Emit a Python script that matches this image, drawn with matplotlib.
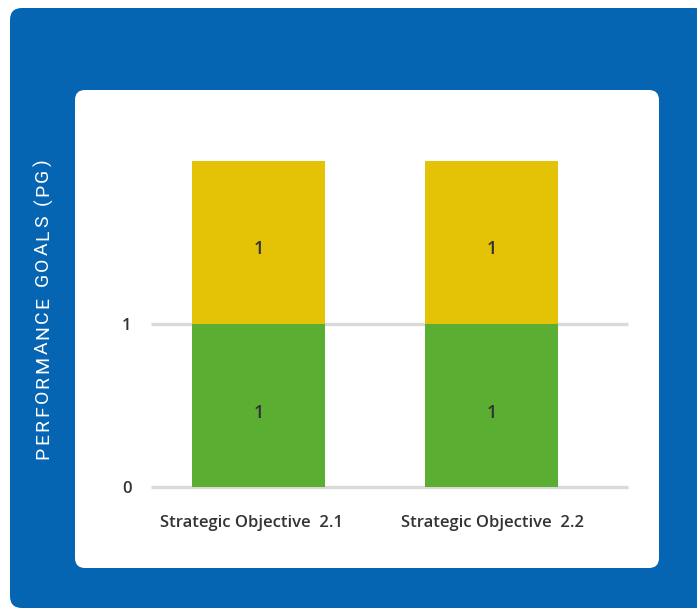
import matplotlib.pyplot as plt
from matplotlib.patches import FancyBboxPatch
from matplotlib.transforms import ScaledTranslation, blended_transform_factory

# Chart data
categories = ["Strategic Objective  2.1", "Strategic Objective  2.2"]
achieved = [1, 1]      # green segment
in_progress = [1, 1]   # yellow segment
y_ticks = [0, 1]
y_title = "PERFORMANCE GOALS (PG)"

BLUE = "#0565b2"
GREEN = "#5aae32"
YELLOW = "#e4c206"
GRID = "#d9d9d9"
TEXT = "#333333"

fig = plt.figure(figsize=(6.97, 6.09), dpi=100)
fig.patch.set_facecolor("white")

# blue panel and white card, drawn in inches so corners stay round
outer = FancyBboxPatch((0.10, 0.01), 7.2, 6.0, boxstyle="round,pad=0,rounding_size=0.12",
                       transform=fig.dpi_scale_trans, facecolor=BLUE, edgecolor="none", zorder=0)
inner = FancyBboxPatch((0.75, 0.41), 5.84, 4.78, boxstyle="round,pad=0,rounding_size=0.10",
                       transform=fig.dpi_scale_trans, facecolor="white", edgecolor="none", zorder=1)
fig.patches.extend([outer, inner])

ax = fig.add_axes([151 / 697, 122 / 609, 477 / 697, 326 / 609])
ax.set_facecolor("none")
ax.set_zorder(2)

x = list(range(len(categories)))
width = 0.571
ax.bar(x, achieved, width, color=GREEN, zorder=3)
ax.bar(x, in_progress, width, bottom=achieved, color=YELLOW, zorder=3)

down = ScaledTranslation(0, -5 / 100, fig.dpi_scale_trans)
for xi, a, p in zip(x, achieved, in_progress):
    for yv, v in ((a / 2, a), (a + p / 2, p)):
        ax.text(xi, yv, str(v), ha="center", va="center_baseline", fontsize=13, color=TEXT,
                family="Open Sans", weight="semibold", zorder=4,
                transform=ax.transData + down)

ax.set_xlim(-0.461, 1.586)
ax.set_ylim(0, 2)
ax.set_yticks(y_ticks)
ax.set_yticklabels([str(t) for t in y_ticks], family="Open Sans", weight="semibold",
                   fontsize=12, color=TEXT)
ax.set_xticks([])
# category labels are not quite centred under their bars in the original
nudge_px = [-7, 1]
base_tr = blended_transform_factory(ax.transData, ax.transAxes)
for xi, name, dx in zip(x, categories, nudge_px):
    tr = base_tr + ScaledTranslation(dx / 100, -20 / 72, fig.dpi_scale_trans)
    ax.text(xi, 0, name, ha="center", va="top", transform=tr, family="Open Sans",
            weight="semibold", fontsize=12, color=TEXT, clip_on=False)
ax.tick_params(axis="y", length=0, pad=14)
ax.yaxis.grid(True, color=GRID, linewidth=2.4, zorder=1)
for gl in ax.get_ygridlines():
    gl.set_clip_on(False)
    gl.set_solid_capstyle("butt")
ax.set_axisbelow(True)
for s in ax.spines.values():
    s.set_visible(False)

# spaced-out vertical title, one glyph at a time
renderer = fig.canvas.get_renderer()
fs = 14
gap = 2.3  # extra pixels between letters
widths = []
for ch in y_title:
    t = fig.text(0, 0, ch if ch != " " else "n", fontsize=fs, family="Roboto")
    w = t.get_window_extent(renderer).width
    if ch == " ":
        w *= 0.55
    widths.append(w)
    t.remove()
total = sum(widths) + gap * (len(y_title) - 1)
cx, cy = 43, 609 - 309
pos = cy - total / 2
for ch, w in zip(y_title, widths):
    fig.text(cx / 697, (pos + w / 2) / 609, ch, rotation=90, ha="center", va="center",
             rotation_mode="anchor", color="white", fontsize=fs, family="Roboto", zorder=5)
    pos += w + gap

fig.savefig("out.png", dpi=100)
